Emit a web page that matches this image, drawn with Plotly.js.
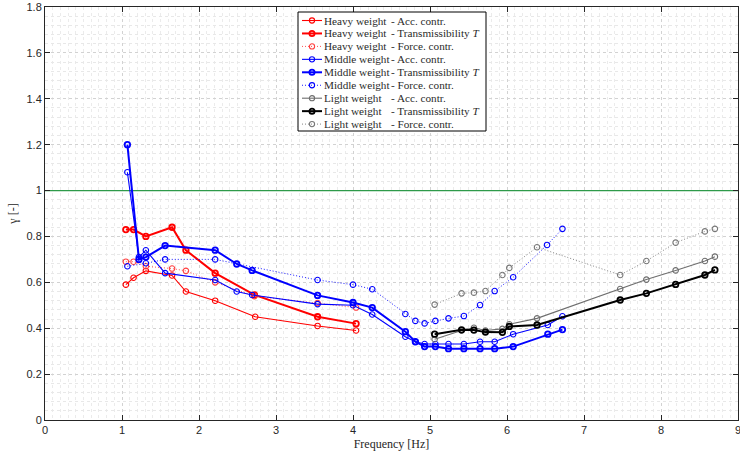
<!DOCTYPE html>
<html>
<head>
<meta charset="utf-8">
<script src="https://cdn.plot.ly/plotly-3.0.1.min.js"></script>
<style>html,body{margin:0;padding:0;background:#fff;}#chart{width:740px;height:457px;}</style>
</head>
<body>
<div id="chart"></div>
<script>
// ---- Data ----
const heavyAccX   = [1.05, 1.15, 1.31, 1.65, 1.83, 2.21, 2.73, 3.54, 4.04];
const heavyAccY   = [0.59, 0.62, 0.65, 0.63, 0.56, 0.52, 0.45, 0.41, 0.39];
const heavyTransX = [1.05, 1.15, 1.31, 1.65, 1.83, 2.21, 2.72, 3.54, 4.04];
const heavyTransY = [0.83, 0.83, 0.80, 0.84, 0.74, 0.64, 0.545, 0.45, 0.42];
const heavyForceX = [1.05, 1.15, 1.31, 1.65, 1.83, 2.21, 2.72, 3.54, 4.04];
const heavyForceY = [0.69, 0.69, 0.67, 0.66, 0.65, 0.60, 0.54, 0.51, 0.49];

const middleAccX   = [1.07, 1.22, 1.31, 1.56, 2.21, 2.49, 2.69, 3.54, 4.0, 4.25, 4.68, 4.81, 4.93, 5.07, 5.24, 5.44, 5.65, 5.84, 6.08, 6.53, 6.72];
const middleAccY   = [1.08, 0.71, 0.74, 0.64, 0.61, 0.56, 0.545, 0.505, 0.50, 0.46, 0.363, 0.341, 0.331, 0.331, 0.331, 0.331, 0.341, 0.341, 0.374, 0.414, 0.452];
const middleTransX = [1.07, 1.22, 1.31, 1.56, 2.21, 2.49, 2.69, 3.54, 4.0, 4.25, 4.68, 4.81, 4.93, 5.07, 5.24, 5.44, 5.65, 5.84, 6.08, 6.53, 6.72];
const middleTransY = [1.20, 0.70, 0.71, 0.76, 0.74, 0.68, 0.652, 0.543, 0.512, 0.49, 0.385, 0.341, 0.32, 0.32, 0.311, 0.311, 0.311, 0.311, 0.32, 0.374, 0.394];
const middleForceX = [1.07, 1.31, 1.56, 2.21, 3.54, 4.0, 4.25, 4.68, 4.81, 4.93, 5.07, 5.24, 5.44, 5.65, 5.84, 6.08, 6.52, 6.72];
const middleForceY = [0.67, 0.683, 0.70, 0.70, 0.61, 0.59, 0.57, 0.462, 0.432, 0.421, 0.432, 0.443, 0.453, 0.501, 0.562, 0.622, 0.763, 0.833];

const lightAccX   = [5.06, 5.41, 5.57, 5.72, 5.94, 6.03, 6.39, 7.47, 7.81, 8.19, 8.57, 8.70];
const lightAccY   = [0.352, 0.39, 0.402, 0.39, 0.397, 0.417, 0.443, 0.571, 0.612, 0.652, 0.693, 0.712];
const lightTransX = [5.06, 5.41, 5.57, 5.72, 5.94, 6.03, 6.39, 7.47, 7.81, 8.19, 8.57, 8.70];
const lightTransY = [0.374, 0.393, 0.392, 0.383, 0.382, 0.408, 0.414, 0.523, 0.552, 0.591, 0.632, 0.654];
const lightForceX = [5.06, 5.41, 5.57, 5.72, 5.94, 6.03, 6.39, 7.47, 7.81, 8.19, 8.57, 8.70];
const lightForceY = [0.503, 0.552, 0.555, 0.562, 0.632, 0.663, 0.753, 0.632, 0.693, 0.773, 0.822, 0.833];

const refLineX = [0, 9];
const refLineY = [1, 1];

const weightLabels = ["Heavy weight", "Heavy weight", "Heavy weight",
                      "Middle weight", "Middle weight", "Middle weight",
                      "Light weight", "Light weight", "Light weight"];
const contrLabels  = ["- Acc. contr.", "- Transmissibility <i>T</i>", "- Force. contr.",
                      "- Acc. contr.", "- Transmissibility <i>T</i>", "- Force. contr.",
                      "- Acc. contr.", "- Transmissibility <i>T</i>", "- Force. contr."];

const xTickVals = [0,1,2,3,4,5,6,7,8,9];
const yTickVals = [0,0.2,0.4,0.6,0.8,1,1.2,1.4,1.6,1.8];

// ---- Styles ----
const red = '#ff0000', blue = '#0000ff', gray = '#6e6e6e', black = '#000000';
const styles = [
  {color: red,  width: 1.1, dash: 'solid'},
  {color: red,  width: 2,   dash: 'solid'},
  {color: '#ff4040', width: 0.9, dash: '1px,2px'},
  {color: blue, width: 1.1, dash: 'solid'},
  {color: blue, width: 2,   dash: 'solid'},
  {color: blue, width: 0.9, dash: '1px,2px'},
  {color: gray, width: 1.1, dash: 'solid'},
  {color: black,width: 2,   dash: 'solid'},
  {color: '#777777', width: 0.9, dash: '1px,2px'}
];
const seriesX = [heavyAccX, heavyTransX, heavyForceX, middleAccX, middleTransX, middleForceX, lightAccX, lightTransX, lightForceX];
const seriesY = [heavyAccY, heavyTransY, heavyForceY, middleAccY, middleTransY, middleForceY, lightAccY, lightTransY, lightForceY];

function mw(s) { return s.width >= 2 ? 1.8 : 1.1; }

const traces = [
  {x: refLineX, y: refLineY, type: 'scatter', mode: 'lines', line: {color: '#2e9a4a', width: 1.3}, showlegend: false, hoverinfo: 'skip'}
];
seriesX.forEach((xs, i) => {
  const s = styles[i];
  traces.push({
    x: xs, y: seriesY[i], type: 'scatter', mode: 'lines+markers', showlegend: false,
    name: weightLabels[i] + ' ' + contrLabels[i],
    line: {color: s.color, width: s.width, dash: s.dash},
    marker: {symbol: 'circle-open', size: 5.5, color: s.color, line: {color: s.color, width: mw(s)}}
  });
});

// ---- Custom legend ----
const plotL = 45, plotT = 7, plotW = 693, plotH = 413;
const px = v => (v - plotL) / plotW;
const py = v => (plotT + plotH - v) / plotH;
const shapes = [{
  type: 'rect', xref: 'paper', yref: 'paper', layer: 'above',
  x0: px(298), x1: px(486), y0: py(131), y1: py(12),
  fillcolor: '#ffffff', line: {color: '#000000', width: 1}
}];
const annotations = [];
const legFont = {family: 'Liberation Serif, Times New Roman, serif', size: 11.2, color: '#2a2a2a'};
weightLabels.forEach((w, i) => {
  const s = styles[i];
  const yc = 20.5 + i * 12.95;
  shapes.push({type: 'line', xref: 'paper', yref: 'paper', layer: 'above',
    x0: px(302), x1: px(322), y0: py(yc), y1: py(yc),
    line: {color: s.color, width: s.width, dash: s.dash}});
  shapes.push({type: 'circle', xref: 'paper', yref: 'paper', layer: 'above',
    xsizemode: 'pixel', ysizemode: 'pixel', xanchor: px(312), yanchor: py(yc),
    x0: -2.6, x1: 2.6, y0: -2.6, y1: 2.6,
    fillcolor: 'rgba(0,0,0,0)', line: {color: s.color, width: mw(s)}});
  annotations.push({xref: 'paper', yref: 'paper', x: px(322), y: py(yc), xanchor: 'left', yanchor: 'middle',
    text: w, showarrow: false, font: legFont});
  annotations.push({xref: 'paper', yref: 'paper', x: px(389), y: py(yc), xanchor: 'left', yanchor: 'middle',
    text: contrLabels[i], showarrow: false, font: legFont});
});

const axisCommon = {
  showline: true, linecolor: '#262626', linewidth: 1, mirror: 'ticks',
  ticks: 'inside', ticklen: 5, tickcolor: '#262626', tickwidth: 1,
  showgrid: true, gridcolor: '#d2d2d2', griddash: 'dot', gridwidth: 1,
  zeroline: false, ticklabeloverflow: 'allow',
  tickfont: {family: 'Liberation Sans, Arial, sans-serif', size: 11, color: '#262626'}
};

const layout = {
  width: 740, height: 457,
  margin: {l: 45, r: 2, t: 7, b: 37},
  paper_bgcolor: '#ffffff', plot_bgcolor: '#ffffff',
  showlegend: false,
  xaxis: Object.assign({}, axisCommon, {
    range: [0, 9], tickvals: xTickVals,
    minor: {dtick: 0.1, showgrid: true, gridcolor: '#ebebeb', griddash: 'dot', gridwidth: 1, ticks: ''},
    title: {text: 'Frequency [Hz]', standoff: 4, font: {family: 'Liberation Serif, Times New Roman, serif', size: 12, color: '#262626'}}
  }),
  yaxis: Object.assign({}, axisCommon, {
    range: [0, 1.8], tickvals: yTickVals,
    minor: {dtick: 0.04, showgrid: true, gridcolor: '#e8e8e8', griddash: 'dot', gridwidth: 1, ticks: ''},
    title: {text: 'γ [-]', standoff: 6, font: {family: 'Liberation Serif, Times New Roman, serif', size: 12, color: '#262626'}}
  }),
  shapes: shapes,
  annotations: annotations
};

Plotly.newPlot('chart', traces, layout, {displayModeBar: false, staticPlot: true});
</script>
</body>
</html>
